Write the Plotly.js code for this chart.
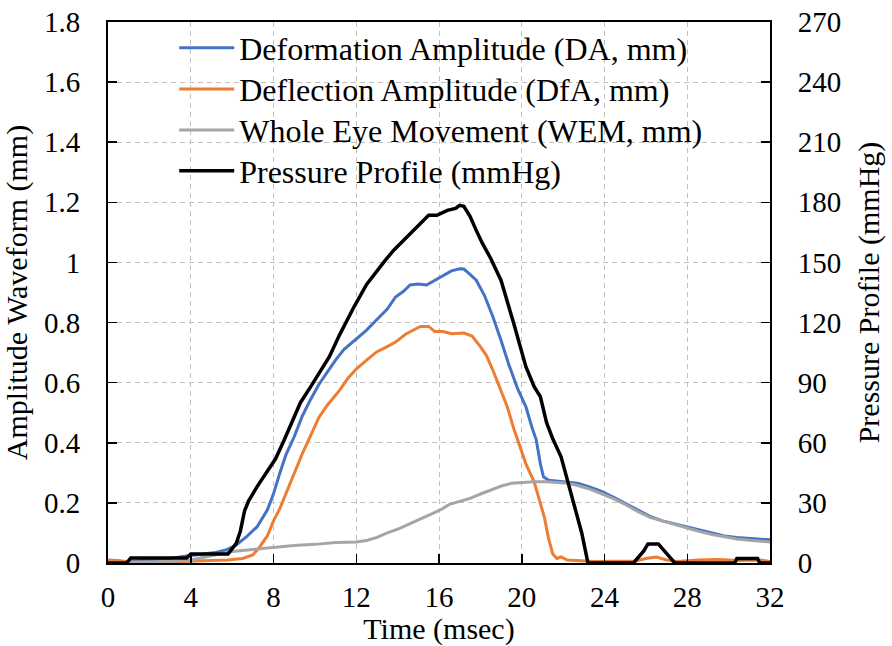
<!DOCTYPE html>
<html>
<head>
<meta charset="utf-8">
<script src="https://cdn.plot.ly/plotly-3.0.1.min.js"></script>
<style>html,body{margin:0;padding:0;background:#fff;}#chart{width:892px;height:646px;}</style>
</head>
<body>
<div id="chart"></div>
<script>
// Deformation Amplitude (DA, mm)
const daTime = [0,1,2,3,3.8,4.5,5.2,5.7,6.2,6.7,7.2,7.7,8.0,8.3,8.6,9.0,9.4,9.8,10.2,10.6,11.0,11.4,12.0,12.5,13.0,13.5,13.9,14.3,14.6,15.0,15.4,15.8,16.2,16.6,17.0,17.2,17.5,17.8,18.2,18.6,19.0,19.4,19.8,20.2,20.5,20.7,20.9,21.05,21.3,21.7,22.2,22.7,23.2,23.8,24.4,25.0,25.6,26.2,26.8,27.4,28.0,28.6,29.2,29.8,30.4,31.0,31.6,32];
const daValues = [0,0.005,0.01,0.015,0.023,0.028,0.035,0.043,0.06,0.088,0.12,0.176,0.23,0.298,0.36,0.42,0.49,0.545,0.595,0.635,0.675,0.71,0.745,0.775,0.81,0.845,0.885,0.905,0.925,0.928,0.925,0.94,0.955,0.972,0.979,0.978,0.96,0.941,0.89,0.82,0.74,0.655,0.58,0.52,0.45,0.41,0.33,0.287,0.275,0.272,0.27,0.265,0.255,0.24,0.22,0.198,0.175,0.155,0.14,0.13,0.12,0.108,0.098,0.09,0.085,0.082,0.079,0.077];

// Deflection Amplitude (DfA, mm)
const dfaTime = [0,0.5,1,2,3,4,5,5.8,6.5,7.0,7.3,7.7,8.0,8.3,8.6,9.0,9.4,9.8,10.2,10.6,11.2,11.6,12.0,12.5,13.0,13.5,13.9,14.4,14.8,15.1,15.5,15.8,16.2,16.6,17.2,17.6,18.0,18.3,18.6,19.0,19.3,19.6,19.9,20.2,20.6,20.9,21.1,21.3,21.5,21.7,21.9,22.2,22.7,23.5,24.5,25.5,26.0,26.5,27.0,27.5,28.5,29.5,30.5,31.5,32];
const dfaValues = [0.01,0.008,0.003,0.002,0.004,0.005,0.008,0.01,0.015,0.027,0.05,0.09,0.14,0.18,0.23,0.3,0.365,0.425,0.485,0.525,0.575,0.615,0.645,0.675,0.703,0.72,0.735,0.762,0.775,0.787,0.787,0.77,0.77,0.763,0.765,0.755,0.72,0.69,0.642,0.57,0.52,0.45,0.387,0.33,0.27,0.2,0.15,0.08,0.03,0.015,0.02,0.01,0.008,0.005,0.006,0.007,0.015,0.02,0.01,0.005,0.01,0.012,0.008,0.01,0.005];

// Whole Eye Movement (WEM, mm)
const wemTime = [0,1,2,3,4,5,6,7,8,9,10,11,12,12.5,13.0,13.5,14.1,14.6,15.2,15.7,16.1,16.5,17.0,17.5,18.1,18.6,19.1,19.5,20.0,20.6,21.2,21.7,22.2,22.7,23.2,23.8,24.4,25.0,25.6,26.2,26.8,27.4,28.0,28.6,29.2,29.8,30.4,31.0,31.6,32];
const wemValues = [0,0.002,0.003,0.005,0.01,0.025,0.038,0.045,0.052,0.058,0.062,0.068,0.07,0.075,0.085,0.1,0.115,0.13,0.148,0.165,0.178,0.195,0.205,0.215,0.232,0.245,0.258,0.265,0.268,0.27,0.27,0.268,0.265,0.258,0.248,0.232,0.215,0.195,0.172,0.152,0.14,0.128,0.118,0.105,0.095,0.087,0.08,0.076,0.072,0.07];

// Pressure Profile (mmHg)
const ppTime = [0,0.9,1.1,3.8,4.0,5.8,6.2,6.4,6.6,6.8,7.2,7.7,8.1,8.5,8.9,9.3,9.8,10.3,10.7,11.2,11.6,11.9,12.5,13.0,13.4,13.8,14.3,14.8,15.2,15.5,15.9,16.1,16.4,16.8,17.0,17.2,17.5,17.8,18.1,18.5,19.0,19.6,20.2,20.6,20.9,21.2,21.5,21.9,22.5,22.9,23.2,25.4,25.9,26.1,26.6,27.0,27.4,30.3,30.4,31.4,31.5,32];
const ppValues = [0,0,2.5,2.5,4.5,4.5,9.8,16,26,31,38,46,52,61,70,80,88,96,103,114,122,128,139,146,151,156,161,166,170,173.5,173.5,174.5,176,177,178.5,178,173,166,159.5,152,141,120,98,88,83,70,62,53,30,15,0,0,6,9.5,9.5,5,0,0,2.3,2.3,0,0];

const seriesNames = ["Deformation Amplitude (DA, mm)","Deflection Amplitude (DfA, mm)","Whole Eye Movement (WEM, mm)","Pressure Profile (mmHg)"];
const xTickVals = [0,4,8,12,16,20,24,28,32];

const fontFam = 'Liberation Serif';

const traces = [
  {x: daTime, y: daValues, name: seriesNames[0], mode: 'lines', legend: 'legend', line: {color: '#4472C4', width: 3}},
  {x: dfaTime, y: dfaValues, name: seriesNames[1], mode: 'lines', legend: 'legend2', line: {color: '#ED7D31', width: 3}},
  {x: wemTime, y: wemValues, name: seriesNames[2], mode: 'lines', legend: 'legend3', line: {color: '#A5A5A5', width: 3}},
  {x: ppTime, y: ppValues, name: seriesNames[3], mode: 'lines', yaxis: 'y2', legend: 'legend4', line: {color: '#000000', width: 3.5}}
];

const gridStyle = {showgrid: true, gridcolor: '#c0c0c0', gridwidth: 1, griddash: '5px,4px'};
const tickFont = {family: fontFam, size: 29, color: '#000'};
const titleFont = {family: fontFam, size: 30, color: '#000'};
function legendAt(y) {
  return {x: 0.1, y: y, xanchor: 'left', yanchor: 'middle', bgcolor: 'rgba(0,0,0,0)',
          font: {size: 32, family: fontFam, color: '#000'}, itemwidth: 55};
}

const layout = {
  width: 892, height: 646,
  margin: {l: 108, r: 122, t: 22, b: 83},
  paper_bgcolor: '#ffffff', plot_bgcolor: '#ffffff',
  font: {family: fontFam, color: '#000000', size: 29},
  showlegend: true,
  legend: legendAt(0.952),
  legend2: legendAt(0.876),
  legend3: legendAt(0.800),
  legend4: legendAt(0.7246),
  xaxis: Object.assign({
    range: [0, 32], tickvals: xTickVals, ticks: 'inside', ticklen: 9, tickwidth: 1.5, tickcolor: '#000',
    showline: true, linecolor: '#000', linewidth: 2, mirror: true, zeroline: false,
    tickfont: tickFont, ticklabelstandoff: 7,
    title: {text: 'Time (msec)', font: titleFont, standoff: 5}
  }, gridStyle),
  yaxis: Object.assign({
    range: [0, 1.8], dtick: 0.2, tick0: 0, ticks: 'inside', ticklen: 9, tickwidth: 1.5, tickcolor: '#000',
    showline: true, linecolor: '#000', linewidth: 2, zeroline: false,
    tickfont: tickFont, ticklabelstandoff: 20,
    title: {text: 'Amplitude Waveform (mm)', font: titleFont, standoff: 8}
  }, gridStyle),
  yaxis2: {
    range: [0, 270], dtick: 30, tick0: 0, overlaying: 'y', side: 'right',
    ticks: 'inside', ticklen: 9, tickwidth: 1.5, tickcolor: '#000',
    showline: true, linecolor: '#000', linewidth: 2, showgrid: false, zeroline: false,
    tickfont: tickFont, ticklabelstandoff: 20,
    title: {text: 'Pressure Profile (mmHg)', font: titleFont, standoff: 18}
  }
};

Plotly.newPlot('chart', traces, layout, {displayModeBar: false, staticPlot: true});
</script>
</body>
</html>
